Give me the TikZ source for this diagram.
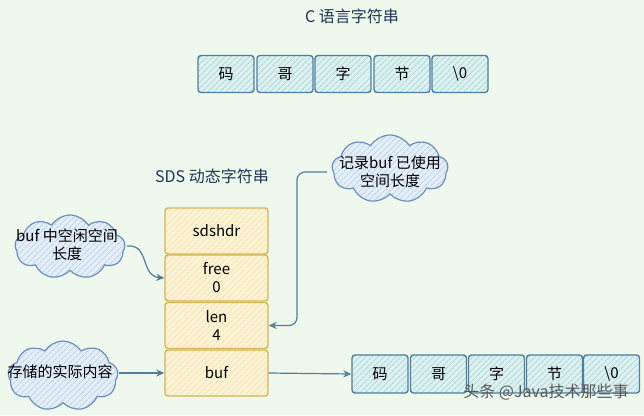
\documentclass[tikz,border=0pt]{standalone}
\usepackage{fontspec}
\setmainfont{Noto Sans CJK SC}
\usetikzlibrary{shapes.symbols,patterns.meta,arrows.meta}
\definecolor{bg}{HTML}{EFF8ED}
\definecolor{cstroke}{HTML}{4E7FA0}
\definecolor{cfill}{HTML}{DDF0EE}
\definecolor{chatch}{HTML}{A8DADC}
\definecolor{ystroke}{HTML}{D6B656}
\definecolor{yfill}{HTML}{FCF3D6}
\definecolor{yhatch}{HTML}{F3E2A6}
\definecolor{bstroke}{HTML}{6C8EBF}
\definecolor{bfill}{HTML}{E4EEF8}
\definecolor{bhatch}{HTML}{B8CFEA}
\definecolor{navy}{HTML}{1D3557}
\definecolor{arr}{HTML}{4E7FA0}
\tikzset{
  every node/.style={font=\fontsize{15}{18}\selectfont},
  cbox/.style={draw=cstroke, line width=1.4pt, rounded corners=3pt,
    minimum width=56pt, minimum height=37pt, inner sep=0pt,
    preaction={fill=cfill},
    pattern={Lines[angle=45,distance=4pt,line width=0.9pt]}, pattern color=chatch},
  ybox/.style={draw=ystroke, line width=1.4pt, rounded corners=3pt,
    minimum width=103pt, minimum height=46pt, inner sep=0pt, align=center,
    preaction={fill=yfill},
    pattern={Lines[angle=45,distance=4pt,line width=0.8pt]}, pattern color=yhatch},
  cloudshape/.style={cloud, cloud puffs=9, cloud puff arc=115, aspect=1.8,
    draw=bstroke, line width=1.2pt, inner sep=0pt,
    preaction={fill=bfill},
    pattern={Lines[angle=45,distance=4pt,line width=0.8pt]}, pattern color=bhatch},
  title/.style={text=navy, font=\fontsize{16}{19}\selectfont},
  conn/.style={draw=arr, line width=1.2pt, -{Stealth[length=8pt,width=7pt]}},
  ctext/.style={align=center, text=black, inner sep=0pt},
}
\begin{document}
\begin{tikzpicture}[x=1pt,y=-1pt]
\fill[bg] (0,0) rectangle (644,415);
\useasboundingbox (0,0) rectangle (644,415);

% C string
\node[title] (ctitle) at (352,16) {C 语言字符串};
\node[cbox] (t1) at (226,74) {码};
\node[cbox] (t2) at (285,74) {哥};
\node[cbox] (t3) at (343,74) {字};
\node[cbox] (t4) at (402,74) {节};
\node[cbox] (t5) at (460,74) {\textbackslash 0};

% SDS
\node[title] (stitle) at (212,176) {SDS 动态字符串};
\node[ybox] (hdr) at (216.5,231) {sdshdr};
\node[ybox] (free) at (216.5,278) {free\\0};
\node[ybox] (len) at (216.5,325.5) {len\\4};
\node[ybox] (buf) at (216.5,373) {buf};

% bottom row
\node[cbox, minimum height=38pt] (b1) at (380,374) {码};
\node[cbox, minimum height=38pt] (b2) at (438.5,374) {哥};
\node[cbox, minimum height=38pt] (b3) at (496.5,374) {字};
\node[cbox, minimum height=38pt] (b4) at (554.5,374) {节};
\node[cbox, minimum height=38pt] (b5) at (611.5,374) {\textbackslash 0};

% clouds
\node[cloudshape, minimum width=110pt, minimum height=64pt] (c1) at (70,247) {};
\node[ctext] (c1t) at (67,245) {buf 中空闲空间\\长度};
\node[cloudshape, minimum width=116pt, minimum height=68pt] (c2) at (390,169) {};
\node[ctext] (c2t) at (390,172) {记录buf 已使用\\空间长度};
\node[cloudshape, minimum width=110pt, minimum height=70pt] (c3) at (63,376) {};
\node[ctext] (c3t) at (60,372) {存储的实际内容};

% connectors
\coordinate (c1o) at (127,246);
\draw[conn] (c1o) .. controls (150,244) and (140,276) .. (free.west);
\coordinate (c2o) at (327,172);
\draw[conn, rounded corners=8pt] (c2o) -- (297,172) |- (len.east);
\coordinate (c3o) at (119,373);
\draw[conn] (c3o) -- (buf.west);
\draw[conn] (buf.east) -- (b1.west);

% watermark
\node[text=black!65, font=\fontsize{16}{18}\selectfont] (wm) at (546,392) {头条 @Java技术那些事};
\end{tikzpicture}
\end{document}
